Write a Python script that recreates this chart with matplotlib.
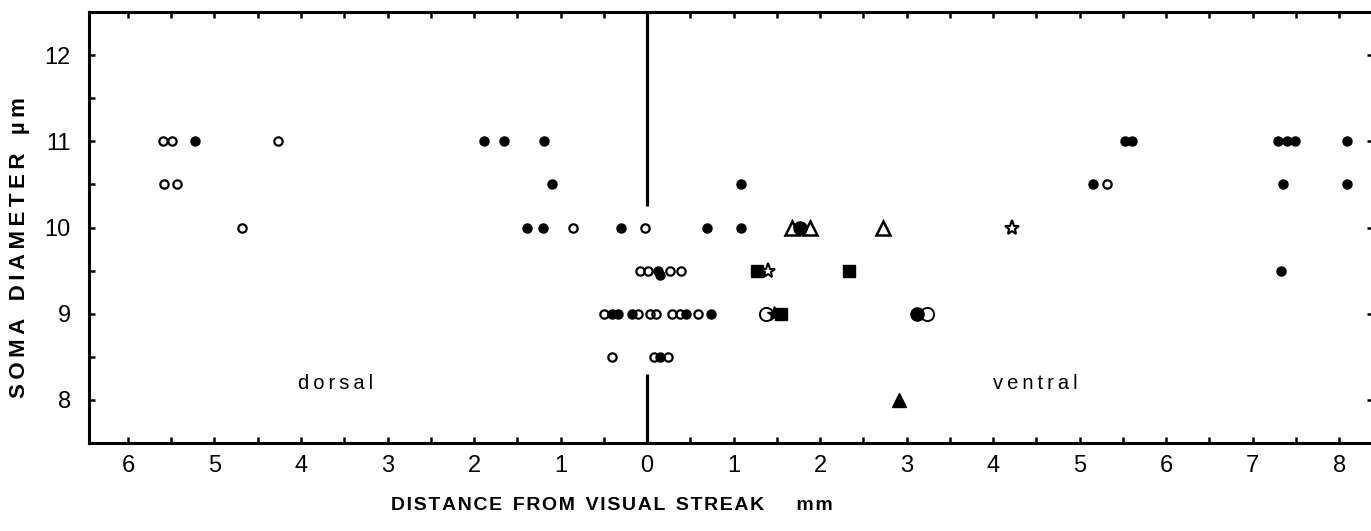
import matplotlib
matplotlib.use("Agg")
import matplotlib.pyplot as plt
from matplotlib.ticker import MultipleLocator, FuncFormatter

plt.rcParams['font.family'] = ['Liberation Sans', 'DejaVu Sans']

# distance in mm (dorsal negative, ventral positive), soma diameter in um
small_open_x = [-5.59, -5.49, -4.26, -5.58, -5.43, -4.68, -0.86, -0.02,
                -0.08, 0.01, 0.27, 0.39,
                -0.50, -0.10, 0.03, 0.10, 0.29, 0.38, 0.59,
                -0.40, 0.08, 0.24,
                5.31]
small_open_y = [11, 11, 11, 10.5, 10.5, 10, 10, 10,
                9.5, 9.5, 9.5, 9.5,
                9, 9, 9, 9, 9, 9, 9,
                8.5, 8.5, 8.5,
                10.5]

small_filled_x = [-5.23, -1.89, -1.65, -1.19, -1.10, -1.39, -1.20, -0.30,
                  0.13, 0.15, -0.40, -0.34, -0.17, 0.45, 0.74, 0.15,
                  0.69, 1.09, 1.09, 5.52, 5.61, 7.29, 7.40, 7.49, 8.09,
                  5.15, 7.35, 8.09, 7.33]
small_filled_y = [11, 11, 11, 11, 10.5, 10, 10, 10,
                  9.5, 9.45, 9, 9, 9, 9, 9, 8.5,
                  10, 10.5, 10, 11, 11, 11, 11, 11, 11,
                  10.5, 10.5, 10.5, 9.5]

big_open_x = [1.37, 3.23]
big_open_y = [9, 9]
big_filled_x = [1.77, 3.12]
big_filled_y = [10, 9]

tri_open_x = [1.67, 1.88, 2.73]
tri_open_y = [10, 10, 10]
tri_filled_x = [2.91]
tri_filled_y = [8]

square_x = [1.27, 2.33, 1.55]
square_y = [9.5, 9.5, 9]

star_open_x = [1.40, 4.22]
star_open_y = [9.5, 10]
star_filled_x = [1.47]
star_filled_y = [9]


def spaced(s, gap):
    # widen the lettering by putting a narrow space between characters
    return gap.join(s)


THIN = '\u2009'
HAIR = '\u200a'

fig = plt.figure(figsize=(13.71, 5.31), dpi=100)
ax = fig.add_axes([89 / 1371, 88 / 531, 1284 / 1371, 431 / 531])

ms = 6.5
ax.plot(small_filled_x, small_filled_y, 'o', ms=ms, color='black', mec='black')
ax.plot(small_open_x, small_open_y, 'o', ms=ms - 0.5, mfc='none', mec='black', mew=1.6)
ax.plot(big_filled_x, big_filled_y, 'o', ms=9.5, color='black')
ax.plot(big_open_x, big_open_y, 'o', ms=9.5, mfc='none', mec='black', mew=1.4)
ax.plot(tri_open_x, tri_open_y, '^', ms=10, mfc='none', mec='black', mew=1.8)
ax.plot(tri_filled_x, tri_filled_y, '^', ms=10, color='black')
ax.plot(square_x, square_y, 's', ms=8, color='black')
ax.plot(star_open_x, star_open_y, '*', ms=11, mfc='none', mec='black', mew=1.5)
ax.plot(star_filled_x, star_filled_y, '*', ms=11, color='black')

# visual streak line, broken around the central cluster
ax.plot([0, 0], [10.25, 12.5], color='black', lw=2.3, solid_capstyle='butt')
ax.plot([0, 0], [7.5, 8.3], color='black', lw=2.3, solid_capstyle='butt')

ax.text(-3.6, 8.19, spaced('dorsal', THIN), ha='center', va='center', fontsize=14.5)
ax.text(4.49, 8.19, spaced('ventral', THIN), ha='center', va='center', fontsize=14.5)

ax.set_xlim(-6.45, 8.39)
ax.set_ylim(7.5, 12.5)

ax.xaxis.set_major_locator(MultipleLocator(1))
ax.xaxis.set_minor_locator(MultipleLocator(0.5))
ax.yaxis.set_major_locator(MultipleLocator(1))
ax.yaxis.set_minor_locator(MultipleLocator(0.5))
ax.xaxis.set_major_formatter(FuncFormatter(lambda v, p: '%d' % abs(round(v))))

for s in ax.spines.values():
    s.set_linewidth(2.2)

ax.tick_params(which='both', direction='in', length=4, width=1.8, top=True)
ax.tick_params(which='major', right=True)
ax.tick_params(which='minor', right=False)
ax.tick_params(axis='x', labelsize=17, pad=9)
ax.tick_params(axis='y', labelsize=17, pad=13)

xlab = '  '.join(spaced(w, HAIR) for w in ['DISTANCE', 'FROM', 'VISUAL', 'STREAK'])
fig.text(612 / 1371, 26 / 531, xlab + '      ' + spaced('mm', HAIR),
         ha='center', va='center', fontsize=14, fontweight='bold')
ylab = '   '.join(spaced(w, THIN) for w in ['SOMA', 'DIAMETER'])
fig.text(20 / 1371, 283 / 531, ylab + '   ' + spaced('\u00b5m', THIN), rotation=90,
         ha='center', va='center', fontsize=16, fontweight='bold')

fig.savefig('out.png', dpi=100)
